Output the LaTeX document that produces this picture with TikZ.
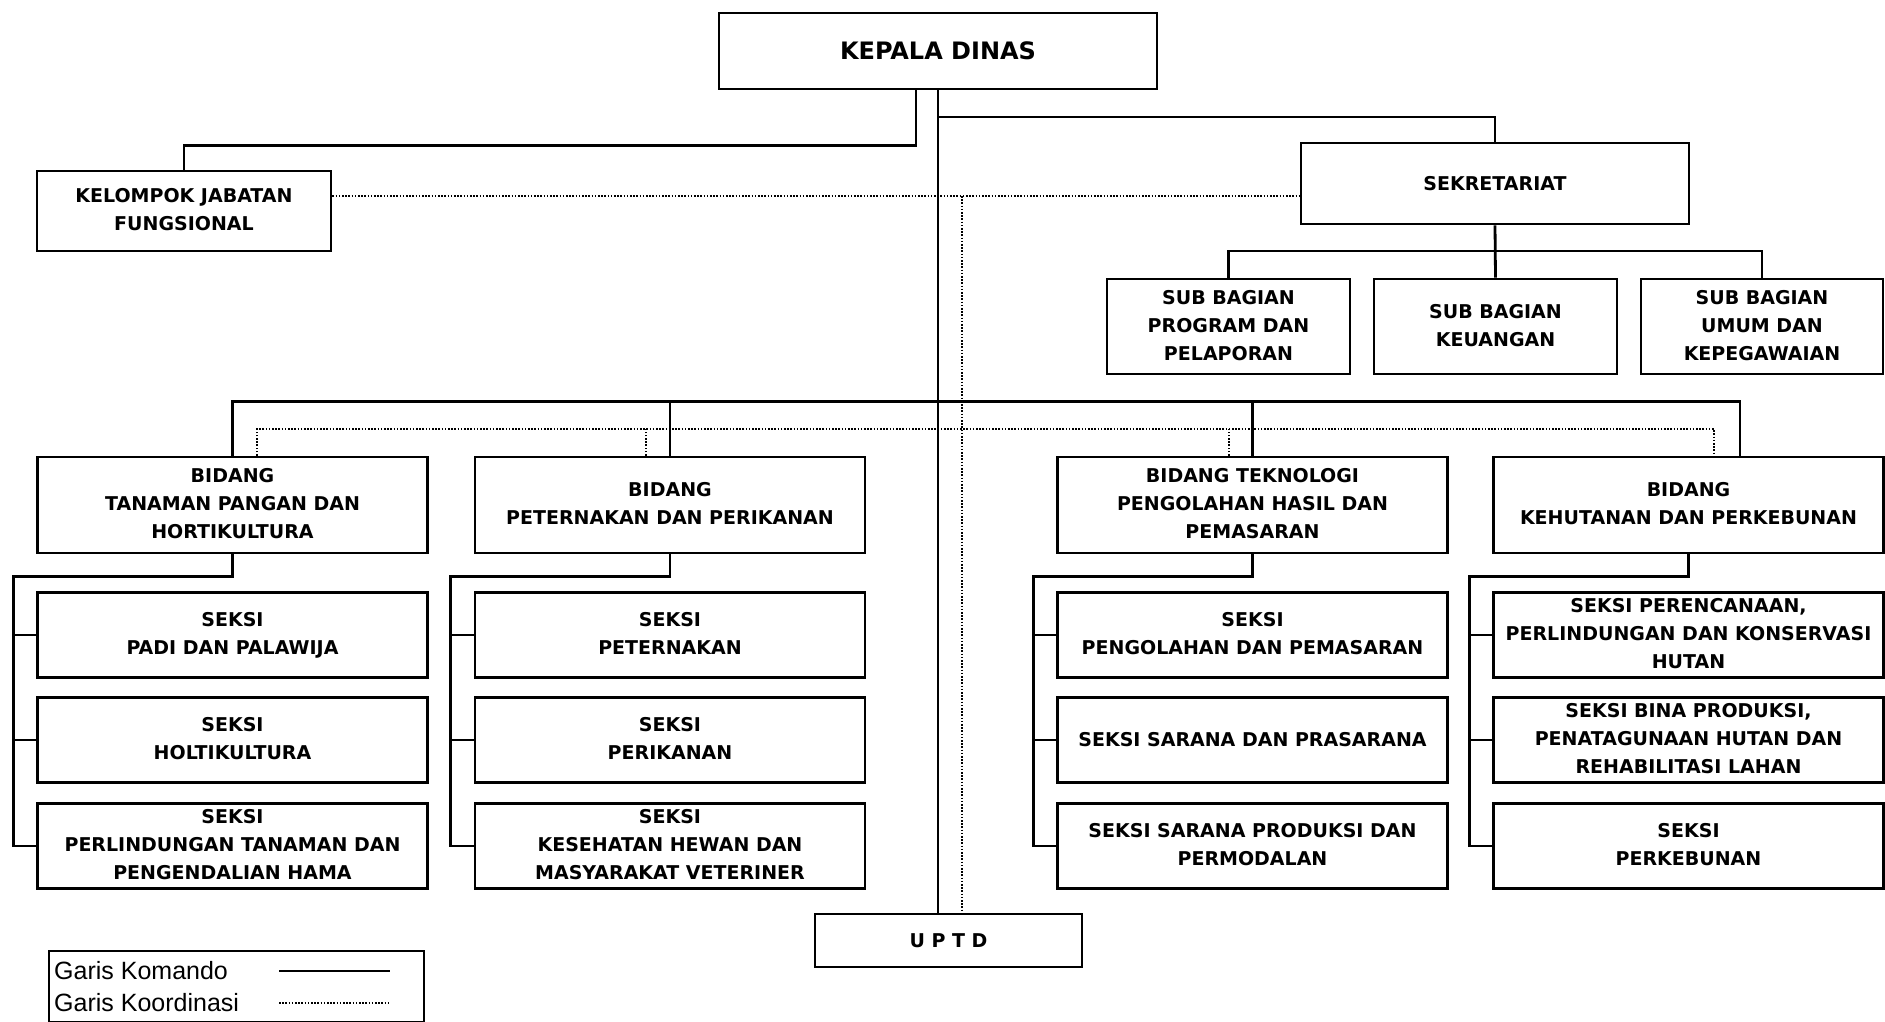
\documentclass[tikz,border=0pt]{standalone}
\usepackage{fontspec}
\newfontfamily\orgfont{DejaVu Sans}
\newfontfamily\legfont{Liberation Sans}

\tikzset{
  unit/.style={draw, line width=2.8pt, minimum width=390pt, minimum height=85pt,
    inner sep=0pt, font=\orgfont\bfseries\fontsize{19}{28}\selectfont},
  komando/.style={line width=2.8pt},
  koordinasi/.style={line width=1.8pt, dash pattern=on 1.6pt off 1.6pt},
  legtext/.style={anchor=west, inner sep=0pt, font=\legfont\fontsize{25}{30}\selectfont}
}

\begin{document}
\begin{tikzpicture}[x=1pt,y=-1pt]
\useasboundingbox (0,0) rectangle (1885,1022);

% pimpinan
\node[unit, minimum width=438pt, minimum height=76pt,
  font=\orgfont\bfseries\fontsize{24}{28}\selectfont] (kadis) at (938,51) {KEPALA DINAS};

\node[unit, minimum width=294pt, minimum height=80pt] (kjf) at (184,211) {
  \begin{tabular}{c}
    KELOMPOK JABATAN \\ FUNGSIONAL
  \end{tabular}
};

\node[unit, minimum width=388pt, minimum height=81pt] (sekr) at (1495,183.5) {SEKRETARIAT};

% sub bagian
\node[unit, minimum width=243pt, minimum height=95pt] (sbprog) at (1228.5,326.5) {
  \begin{tabular}{c}
    SUB BAGIAN \\ PROGRAM DAN \\ PELAPORAN
  \end{tabular}
};
\node[unit, minimum width=243pt, minimum height=95pt] (sbkeu) at (1495.5,326.5) {
  \begin{tabular}{c}
    SUB BAGIAN \\ KEUANGAN
  \end{tabular}
};
\node[unit, minimum width=242pt, minimum height=95pt] (sbumum) at (1762,326.5) {
  \begin{tabular}{c}
    SUB BAGIAN \\ UMUM DAN \\ KEPEGAWAIAN
  \end{tabular}
};

% bidang
\node[unit, minimum height=96pt] (tph) at (232.5,505) {
  \begin{tabular}{c}
    BIDANG \\ TANAMAN PANGAN DAN \\ HORTIKULTURA
  \end{tabular}
};
\node[unit, minimum height=96pt] (pp) at (670,505) {
  \begin{tabular}{c}
    BIDANG \\ PETERNAKAN DAN PERIKANAN
  \end{tabular}
};
\node[unit, minimum height=96pt] (tek) at (1252.5,505) {
  \begin{tabular}{c}
    BIDANG TEKNOLOGI \\ PENGOLAHAN HASIL DAN \\ PEMASARAN
  \end{tabular}
};
\node[unit, minimum height=96pt] (hut) at (1688.5,505) {
  \begin{tabular}{c}
    BIDANG \\ KEHUTANAN DAN PERKEBUNAN
  \end{tabular}
};

% seksi
\node[unit] (tph1) at (232.5,635) {
  \begin{tabular}{c}
    SEKSI \\ PADI DAN PALAWIJA
  \end{tabular}
};
\node[unit] (tph2) at (232.5,740) {
  \begin{tabular}{c}
    SEKSI \\ HOLTIKULTURA
  \end{tabular}
};
\node[unit] (tph3) at (232.5,846) {
  \begin{tabular}{c}
    SEKSI \\ PERLINDUNGAN TANAMAN DAN \\ PENGENDALIAN HAMA
  \end{tabular}
};

\node[unit] (pp1) at (670,635) {
  \begin{tabular}{c}
    SEKSI \\ PETERNAKAN
  \end{tabular}
};
\node[unit] (pp2) at (670,740) {
  \begin{tabular}{c}
    SEKSI \\ PERIKANAN
  \end{tabular}
};
\node[unit] (pp3) at (670,846) {
  \begin{tabular}{c}
    SEKSI \\ KESEHATAN HEWAN DAN \\ MASYARAKAT VETERINER
  \end{tabular}
};

\node[unit] (tek1) at (1252.5,635) {
  \begin{tabular}{c}
    SEKSI \\ PENGOLAHAN DAN PEMASARAN
  \end{tabular}
};
\node[unit] (tek2) at (1252.5,740) {SEKSI SARANA DAN PRASARANA};
\node[unit] (tek3) at (1252.5,846) {
  \begin{tabular}{c}
    SEKSI SARANA PRODUKSI DAN \\ PERMODALAN
  \end{tabular}
};

\node[unit] (hut1) at (1688.5,635) {
  \begin{tabular}{c}
    SEKSI PERENCANAAN, \\ PERLINDUNGAN DAN KONSERVASI \\ HUTAN
  \end{tabular}
};
\node[unit] (hut2) at (1688.5,740) {
  \begin{tabular}{c}
    SEKSI BINA PRODUKSI, \\ PENATAGUNAAN HUTAN DAN \\ REHABILITASI LAHAN
  \end{tabular}
};
\node[unit] (hut3) at (1688.5,846) {
  \begin{tabular}{c}
    SEKSI \\ PERKEBUNAN
  \end{tabular}
};

\node[unit, minimum width=267pt, minimum height=53pt] (uptd) at (948.5,940.5) {U P T D};

% tinggi garis
\coordinate (lvsekr) at (0,117);
\coordinate (lvkoor) at (962,196);
\coordinate (lvsb) at (0,251);
\coordinate (lvbid) at (0,401.5);
\coordinate (lvkbid) at (0,429);
\coordinate (hutk) at ([xshift=51.5pt]hut.north);
\coordinate (tphd) at ([xshift=24.5pt]tph.north);
\coordinate (ppd) at ([xshift=-24pt]pp.north);
\coordinate (tekd) at ([xshift=-23.5pt]tek.north);
\coordinate (hutd) at ([xshift=25.5pt]hut.north);

% garis komando
\draw[komando] (kadis.south) -- (kadis.south |- uptd.north);
\draw[komando] ([xshift=-22pt]kadis.south) -- ++(0,55) -| (kjf.north);
\draw[komando] (kadis.south |- lvsekr) -| (sekr.north);

\draw[komando] (sekr.south) -- (sbkeu.north);
\draw[komando] (sbprog.north) -- (sbprog.north |- lvsb) -- (sbumum.north |- lvsb) -- (sbumum.north);

\draw[komando] (tph.north) -- (tph.north |- lvbid) -- (hutk |- lvbid) -- (hutk);
\foreach \b in {pp,tek}
  \draw[komando] (\b.north) -- (\b.north |- lvbid);

\foreach \b in {tph,pp,tek,hut}{
  \draw[komando] (\b.south) -- ++(0,22) -| ([xshift=-23pt]\b3.west) -- (\b3.west);
  \foreach \i in {1,2}
    \draw[komando] ([xshift=-23pt]\b\i.west) -- (\b\i.west);
}

% garis koordinasi
\draw[koordinasi] (kjf.east |- lvkoor) -- (sekr.west |- lvkoor);
\draw[koordinasi] (lvkoor) -- (lvkoor |- uptd.north);
\draw[koordinasi] (tphd) -- (tphd |- lvkbid) -- (hutd |- lvkbid) -- (hutd);
\foreach \b in {ppd,tekd}
  \draw[koordinasi] (\b) -- (\b |- lvkbid);

% keterangan
\node[draw, line width=2pt, minimum width=375pt, minimum height=71pt,
  anchor=north west, inner sep=0pt] (legend) at (48,950) {};
\node[legtext] (lgkom) at (54,971) {Garis Komando};
\node[legtext] (lgkoor) at (54,1003) {Garis Koordinasi};
\coordinate (smpa) at (279,0);
\coordinate (smpb) at (390,0);
\draw[komando, line width=1.8pt] (smpa |- lgkom.east) -- (smpb |- lgkom.east);
\draw[koordinasi] (smpa |- lgkoor.east) -- (smpb |- lgkoor.east);
\end{tikzpicture}
\end{document}
